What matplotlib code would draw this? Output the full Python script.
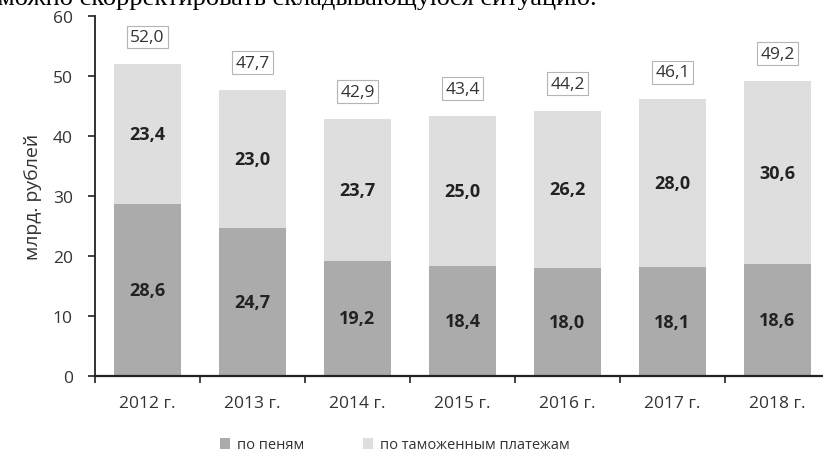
import numpy as np
import matplotlib
matplotlib.use('Agg')
import matplotlib.pyplot as plt

plt.rcParams['font.family'] = ['Open Sans', 'DejaVu Sans']

years = ['2012 г.', '2013 г.', '2014 г.', '2015 г.', '2016 г.', '2017 г.', '2018 г.']
penalties = [28.6, 24.7, 19.2, 18.4, 18.0, 18.1, 18.6]
payments = [23.4, 23.0, 23.7, 25.0, 26.2, 28.0, 30.6]
totals = [52.0, 47.7, 42.9, 43.4, 44.2, 46.1, 49.2]

dark = '#ababab'
light = '#dedede'


def fmt(v):
    return f'{v:.1f}'.replace('.', ',')


fig = plt.figure(figsize=(8.23, 4.56), dpi=100)
ax = fig.add_axes([95 / 823, 79 / 456, 735 / 823, 360 / 456])

x = np.arange(len(years))
w = 0.64
ax.bar(x, penalties, w, color=dark, label='по пеням')
ax.bar(x, payments, w, bottom=penalties, color=light, label='по таможенным платежам')

for i in range(len(years)):
    ax.text(x[i], penalties[i] / 2, fmt(penalties[i]),
            ha='center', va='center', fontsize=13, fontweight='bold', color='#222222')
    ax.text(x[i], penalties[i] + payments[i] / 2, fmt(payments[i]),
            ha='center', va='center', fontsize=13, fontweight='bold', color='#222222')
    ax.annotate(fmt(totals[i]), (x[i], totals[i]),
                xytext=(0, 27), textcoords='offset pixels',
                ha='center', va='center', fontsize=12.5, color='#333333',
                bbox=dict(boxstyle='square,pad=0.2', fc='white', ec='#b5b5b5', lw=0.8))

ax.set_xlim(-0.5, 6.5)
ax.set_ylim(0, 60)
ax.set_yticks(range(0, 61, 10))
ax.set_xticks(x)
ax.set_xticklabels(years)
ax.set_xticks(np.arange(-0.5, 7, 1), minor=True)
ax.tick_params(axis='x', which='major', length=0, pad=14, labelsize=12.5, colors='#333333')
ax.tick_params(axis='x', which='minor', length=5, width=1.2, direction='out', color='#222222')
ax.tick_params(axis='y', length=5, width=1.2, direction='out', labelsize=12.5,
               labelcolor='#333333', color='#222222', pad=11)

for s in ['top', 'right']:
    ax.spines[s].set_visible(False)
ax.spines['left'].set_linewidth(1.3)
ax.spines['bottom'].set_linewidth(1.6)
ax.spines['left'].set_color('#222222')
ax.spines['bottom'].set_color('#222222')

ax.set_ylabel('млрд. рублей', fontsize=14, color='#333333', labelpad=8)

fig.legend(loc='center', bbox_to_anchor=(395 / 823, 1 - 446 / 456), ncol=2, frameon=False,
           fontsize=10.5, handlelength=0.7, handleheight=0.7, handletextpad=0.5,
           columnspacing=4.0, labelcolor='#333333')

fig.text(-0.002, 1 - 5 / 456, 'можно скорректировать складывающуюся ситуацию.',
         family=['Liberation Serif', 'DejaVu Serif'], fontsize=19, ha='left', va='baseline')

fig.savefig('out.png', dpi=100)
